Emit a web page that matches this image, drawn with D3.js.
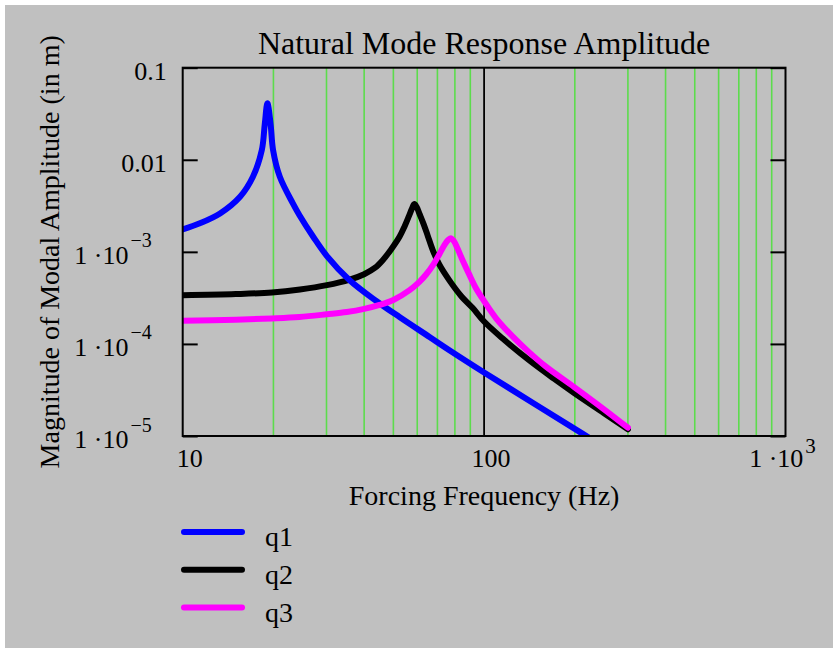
<!DOCTYPE html>
<html><head><meta charset="utf-8">
<script src="https://cdn.jsdelivr.net/npm/d3@7"></script>
<style>
body{margin:0;background:#fff}
svg{display:block}
text{font-family:"Liberation Serif","Times New Roman",serif;fill:#000}
</style>
</head><body>
<svg id="c" width="833" height="656"></svg>
<script>
// ---- data ----
const freqQ1 = [10, 11.4, 13.3, 15.5, 17.1, 18.3, 18.73, 19.1, 19.56, 19.95, 21.0, 23.2, 24.4, 27.1, 30.1, 35.8, 44, 52.4, 65.9, 76.7, 100, 212, 300];
const ampQ1  = [1.75e-3, 2.04e-3, 2.61e-3, 3.96e-3, 6.53e-3, 1.27e-2, 2.49e-2, 4.1e-2, 2.49e-2, 1.27e-2, 6.53e-3, 3.36e-3, 2.5e-3, 1.46e-3, 9.0e-4, 4.92e-4, 2.91e-4, 1.96e-4, 1.19e-4, 8.55e-5, 4.9e-5, 1.06e-5, 5.2e-6];

const freqQ2 = [10, 15, 19.76, 24.5, 30.1, 35.8, 40, 43.5, 46.1, 49, 52.4, 54.5, 56.3, 57.6, 58.7, 59.8, 61, 63.0, 65, 67.6, 71, 76.7, 84, 91.7, 100, 115, 141, 170, 199, 250, 300];
const ampQ2  = [3.38e-4, 3.48e-4, 3.62e-4, 3.9e-4, 4.35e-4, 5.0e-4, 5.72e-4, 6.73e-4, 8.12e-4, 1.05e-3, 1.46e-3, 1.90e-3, 2.44e-3, 2.93e-3, 3.3e-3, 3.05e-3, 2.6e-3, 2.0e-3, 1.5e-3, 1.04e-3, 7.3e-4, 4.9e-4, 3.3e-4, 2.45e-4, 1.75e-4, 1.15e-4, 6.65e-5, 4.22e-5, 2.93e-5, 1.77e-5, 1.18e-5];

const freqQ3 = [10, 15, 19.76, 24.4, 30.1, 35, 40, 45, 50, 56.6, 61, 64.3, 68, 71.1, 74, 76.2, 77.8, 79.5, 81.5, 85, 89, 94.1, 100, 109.6, 124.5, 140, 160, 199, 250, 300];
const ampQ3  = [1.78e-4, 1.83e-4, 1.89e-4, 1.96e-4, 2.1e-4, 2.22e-4, 2.4e-4, 2.65e-4, 3.0e-4, 3.84e-4, 4.72e-4, 5.71e-4, 7.37e-4, 9.5e-4, 1.2e-3, 1.36e-3, 1.40e-3, 1.3e-3, 1.1e-3, 8.0e-4, 5.8e-4, 4.0e-4, 2.92e-4, 1.9e-4, 1.2e-4, 8.3e-5, 5.7e-5, 3.4e-5, 1.95e-5, 1.23e-5];

const seriesNames = ["q1", "q2", "q3"];
const xTicks = [10, 100, 1000];
const xTickLabels = [["10"], ["100"], ["1 \u00B710", "3"]];
const yTicks = [0.1, 0.01, 1e-3, 1e-4, 1e-5];
const yTickLabels = [["0.1"], ["0.01"], ["1 \u00B710", "\u22123"], ["1 \u00B710", "\u22124"], ["1 \u00B710", "\u22125"]];
const gridMinor = [20, 30, 40, 50, 60, 70, 80, 90, 200, 300, 400, 500, 600, 700, 800, 900];
const gridMajor = [100];
const titleText = "Natural Mode Response Amplitude";
const xTitle = "Forcing Frequency (Hz)";
const yTitle = "Magnitude of Modal Amplitude (in m)";

// ---- styles ----
const colors = ["#0000ff", "#000000", "#ff00ff"];
const drawOrder = [1, 0, 2];

const svg = d3.select("#c");
svg.append("rect").attr("x", 5).attr("y", 5).attr("width", 828).attr("height", 643).attr("fill", "#c0c0c0");

const L = 182.7, R = 785.5, T = 67.7, B = 436;
const x = d3.scaleLog().domain([10, 1000]).range([L, R]);
const y = d3.scaleLog().domain([1e-5, 0.1]).range([B, T]);

// grid
svg.append("g").selectAll("line").data(gridMinor).join("line")
  .attr("x1", d => x(d)).attr("x2", d => x(d)).attr("y1", T).attr("y2", B)
  .attr("stroke", "#5cdc4c").attr("stroke-width", 1.6);
svg.append("g").selectAll("line").data(gridMajor).join("line")
  .attr("x1", d => x(d)).attr("x2", d => x(d)).attr("y1", T).attr("y2", B)
  .attr("stroke", "#000").attr("stroke-width", 1.8);

// y ticks (inward, left and right)
const yl = svg.append("g").attr("transform", `translate(${L},0)`)
  .call(d3.axisLeft(y).tickValues(yTicks).tickSizeInner(-15).tickSizeOuter(0).tickFormat(() => ""));
const yr = svg.append("g").attr("transform", `translate(${R},0)`)
  .call(d3.axisRight(y).tickValues(yTicks).tickSizeInner(-15).tickSizeOuter(0).tickFormat(() => ""));
[yl, yr].forEach(g => {
  g.select(".domain").remove();
  g.selectAll(".tick text").remove();
  g.selectAll(".tick line").attr("stroke", "#000").attr("stroke-width", 2);
});

// series
const series = [
  freqQ1.map((f, i) => [f, ampQ1[i]]),
  freqQ2.map((f, i) => [f, ampQ2[i]]),
  freqQ3.map((f, i) => [f, ampQ3[i]])
];
svg.append("clipPath").attr("id", "clip").append("rect")
  .attr("x", L).attr("y", T).attr("width", R - L).attr("height", B - T);
const line = d3.line().x(d => x(d[0])).y(d => y(d[1])).curve(d3.curveCatmullRom.alpha(0.5));
const gs = svg.append("g").attr("clip-path", "url(#clip)");
drawOrder.forEach(i => {
  gs.append("path").attr("d", line(series[i])).attr("fill", "none")
    .attr("stroke", colors[i]).attr("stroke-width", 6)
    .attr("stroke-linejoin", "round").attr("stroke-linecap", "round");
});

// frame
svg.append("rect").attr("x", L).attr("y", T).attr("width", R - L).attr("height", B - T)
  .attr("fill", "none").attr("stroke", "#000").attr("stroke-width", 2);

// y tick labels
yTicks.forEach((v, i) => {
  const lab = yTickLabels[i];
  const t = svg.append("text").attr("text-anchor", "end").attr("font-size", 26)
    .attr("x", lab.length > 1 ? L - 31 : L - 16).attr("y", y(v) + 12);
  t.append("tspan").text(lab[0]);
  if (lab.length > 1) t.append("tspan").attr("font-size", 20).attr("dy", -16.5).attr("dx", 2).text(lab[1]);
});
// x tick labels
xTicks.forEach((v, i) => {
  const lab = xTickLabels[i];
  const t = svg.append("text").attr("text-anchor", "middle").attr("font-size", 26)
    .attr("x", lab.length > 1 ? x(v) - 3 : x(v) + 7).attr("y", 466.5);
  t.append("tspan").text(lab[0]);
  if (lab.length > 1) t.append("tspan").attr("font-size", 21).attr("dy", -14).attr("dx", 2).text(lab[1]);
});

// titles
svg.append("text").attr("x", (L + R) / 2).attr("y", 54).attr("text-anchor", "middle")
  .attr("font-size", 32).text(titleText);
svg.append("text").attr("x", (L + R) / 2).attr("y", 505).attr("text-anchor", "middle")
  .attr("font-size", 28).text(xTitle);
svg.append("text").attr("transform", `translate(59,${(T + B) / 2}) rotate(-90)`)
  .attr("text-anchor", "middle").attr("font-size", 28).text(yTitle);

// legend
seriesNames.forEach((n, i) => {
  const ly = 532 + i * 37.8;
  svg.append("line").attr("x1", 184).attr("x2", 242).attr("y1", ly).attr("y2", ly)
    .attr("stroke", colors[i]).attr("stroke-width", 6).attr("stroke-linecap", "round");
  svg.append("text").attr("x", 265).attr("y", ly + 14).attr("font-size", 28).text(n);
});
</script>
</body></html>
